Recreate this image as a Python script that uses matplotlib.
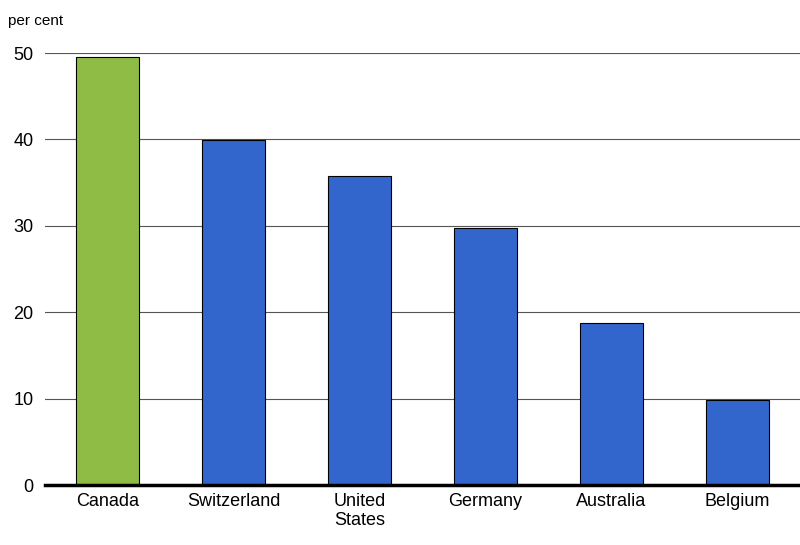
import matplotlib
matplotlib.use("Agg")
import matplotlib.pyplot as plt

categories = ["Canada", "Switzerland", "United\nStates", "Germany", "Australia", "Belgium"]
values = [49.5, 39.9, 35.8, 29.8, 18.7, 9.9]
colors = ["#8FBC45", "#3366CC", "#3366CC", "#3366CC", "#3366CC", "#3366CC"]
yticks = [0, 10, 20, 30, 40, 50]

plt.rcParams['font.family'] = ['Liberation Sans', 'DejaVu Sans']
fig = plt.figure(figsize=(8, 5.45), dpi=100)
ax = fig.add_axes([0.056, 0.11, 0.944, 0.7927])
x = range(len(categories))
ax.bar(x, values, width=0.5, color=colors, edgecolor="black", linewidth=0.8, zorder=3)
ax.set_xlim(-0.5, 5.5)
ax.set_ylim(0, 50)
ax.set_yticks(yticks)
ax.set_xticks(list(x))
ax.set_xticklabels(categories, fontsize=13, linespacing=1.1)
ax.tick_params(axis='y', labelsize=13, length=0, pad=8)
ax.tick_params(axis='x', length=0, pad=6)
ax.grid(axis='y', color='#555555', linewidth=0.8, zorder=0)
for s in ['left', 'right', 'top']:
    ax.spines[s].set_visible(False)
ax.spines['bottom'].set_linewidth(2.5)
ax.spines['bottom'].set_zorder(4)
fig.text(0.01, 0.975, "per cent", fontsize=11, va='top', ha='left')
fig.savefig("out.png", dpi=100)
